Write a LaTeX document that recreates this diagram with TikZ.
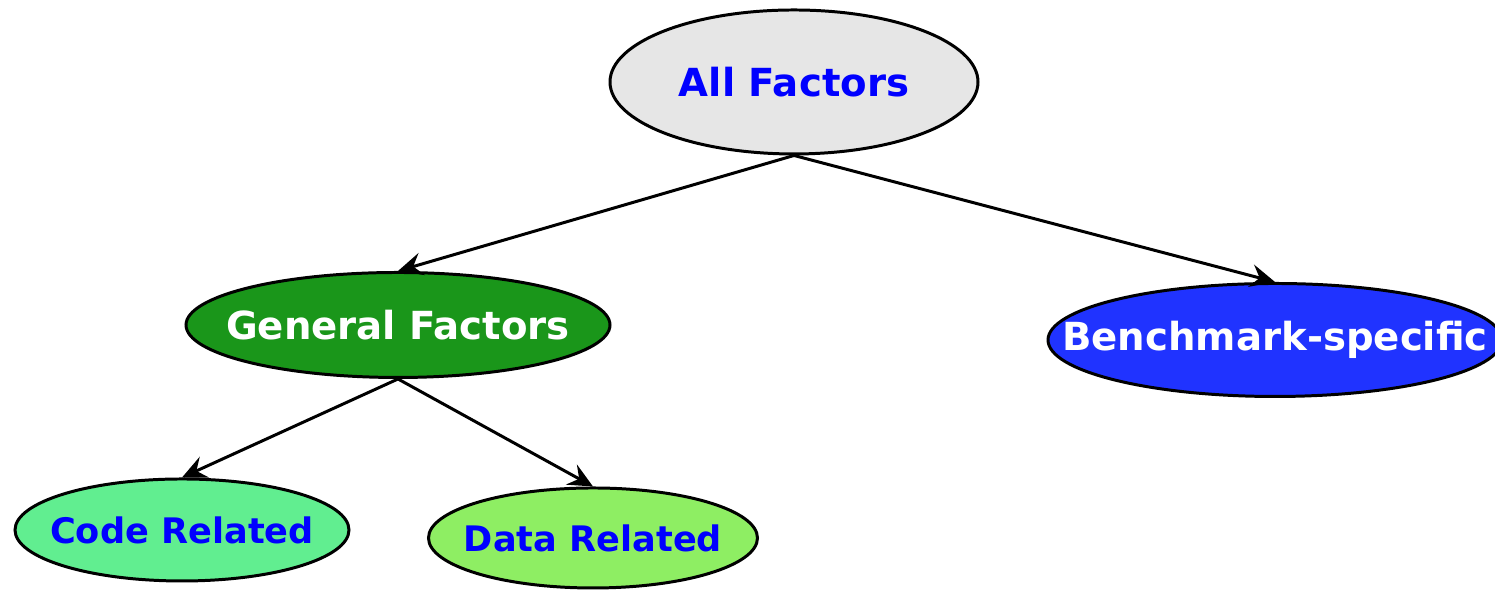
\documentclass[tikz,border=0pt]{standalone}
\usepackage{fontspec}
\setmainfont{DejaVu Sans}
\usepackage{xcolor}
\usetikzlibrary{arrows.meta,shapes.geometric}

\definecolor{allgray}{RGB}{230,230,230}
\definecolor{gengreen}{RGB}{26,150,26}
\definecolor{benchblue}{RGB}{32,51,255}
\definecolor{codegreen}{RGB}{97,238,144}
\definecolor{datagreen}{RGB}{142,238,99}

\tikzset{
  % negative inner sep: the minimum size alone sets the ellipse
  factor/.style={ellipse, draw=black, line width=0.85pt, inner sep=-3cm,
    font=\fontsize{11}{13}\selectfont\bfseries},
  subfactor/.style={factor, font=\fontsize{10}{12}\selectfont\bfseries},
  darkfactor/.style={factor, text=white},
  lightfactor/.style={factor, text=blue}
}

\begin{document}
\begin{tikzpicture}
\useasboundingbox (0,0) rectangle (14.95,5.90);
  \node[lightfactor, fill=allgray, minimum width=3.68cm, minimum height=1.44cm]    (A) at (7.94,5.08)  {All Factors};
  \node[darkfactor, fill=gengreen, minimum width=4.24cm, minimum height=1.05cm]    (G) at (3.98,2.65)  {General Factors};
  \node[darkfactor, fill=benchblue, minimum width=4.54cm, minimum height=1.13cm]   (B) at (12.75,2.50) {Benchmark-specific};
  \node[lightfactor, subfactor, fill=codegreen, minimum width=3.34cm, minimum height=1.02cm]  (C) at (1.82,0.60)  {Code Related};
  \node[lightfactor, subfactor, fill=datagreen, minimum width=3.29cm, minimum height=1.00cm]  (D) at (5.93,0.52)  {Data Related};

  \path[-{Stealth[length=7pt,width=6.5pt,inset=2.5pt]}, line width=0.85pt]
        (A.south) edge (G.north)
        (A.south) edge (B.north)
        (G.south) edge (C.north)
        (G.south) edge (D.north);
\end{tikzpicture}
\end{document}
